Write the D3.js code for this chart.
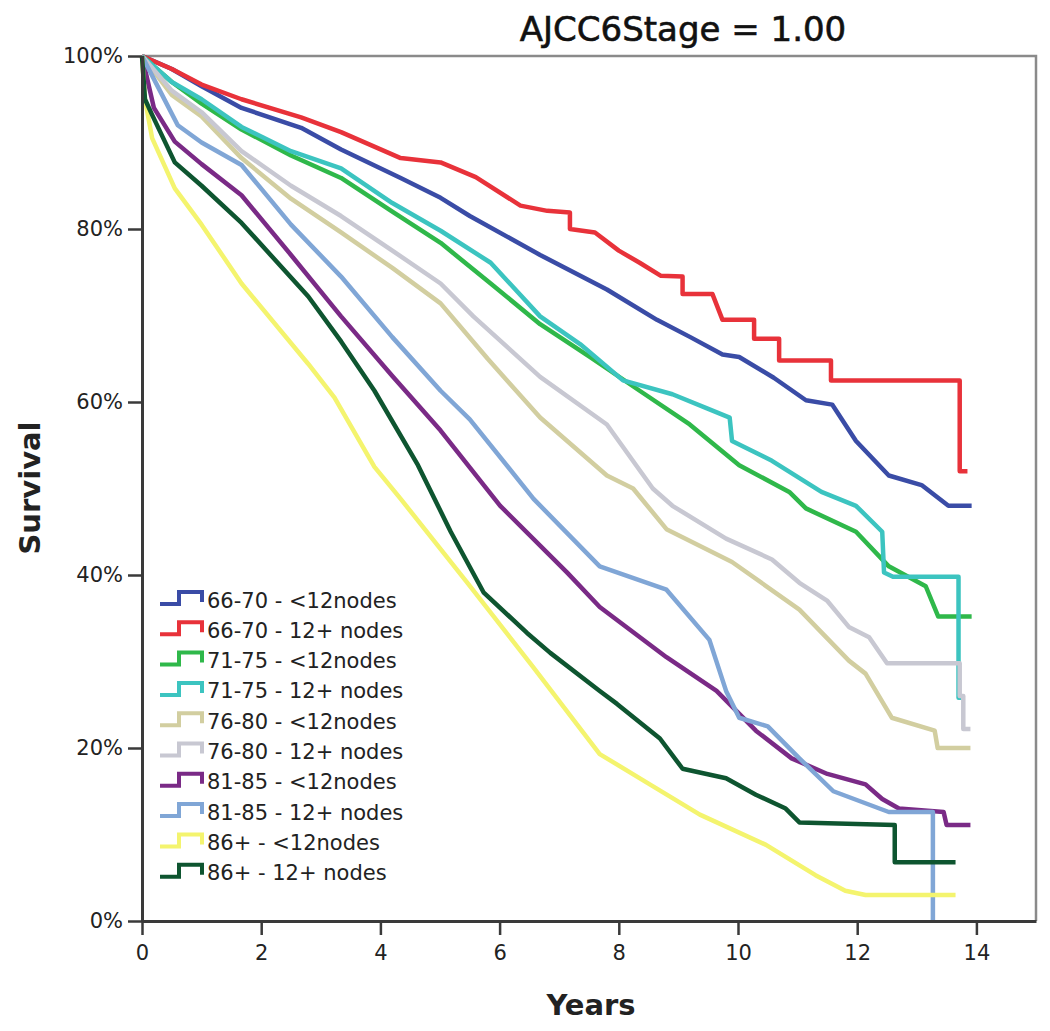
<!DOCTYPE html>
<html><head><meta charset="utf-8">
<script src="https://cdn.jsdelivr.net/npm/d3@7"></script>
<style>body{margin:0;background:#fff}</style></head>
<body>
<svg id="c" width="1050" height="1031"></svg>
<script>
// ---------- DATA ----------
const chartTitle = "AJCC6Stage = 1.00";
const xTitle = "Years";
const yTitle = "Survival";
const xTicks = [0, 2, 4, 6, 8, 10, 12, 14];
const yTicks = [0, 20, 40, 60, 80, 100];

const seriesNames = [
  "66-70 - <12nodes", "66-70 - 12+ nodes",
  "71-75 - <12nodes", "71-75 - 12+ nodes",
  "76-80 - <12nodes", "76-80 - 12+ nodes",
  "81-85 - <12nodes", "81-85 - 12+ nodes",
  "86+ - <12nodes", "86+ - 12+ nodes"
];

// [years, survival %]
const s6670_lt12 = [[0,100],[0.5,98.5],[1,96.5],[1.67,94],[2.67,91.7],[3.34,89.2],[4.34,85.9],[5.01,83.6],[5.5,81.5],[6.68,77],[7.8,73],[8.64,69.5],[9.2,67.5],[9.74,65.5],[10.02,65.2],[10.6,62.8],[11.14,60.2],[11.58,59.7],[11.98,55.5],[12.53,51.5],[13.08,50.4],[13.53,48],[13.92,48]];
const s6670_12p = [[0,100],[0.5,98.5],[1,96.7],[1.67,95],[2.67,92.9],[3.34,91.2],[4.34,88.2],[5.01,87.7],[5.6,86],[6.35,82.7],[6.8,82.1],[7.18,81.9],[7.18,80],[7.6,79.6],[8.0,77.5],[8.35,76.1],[8.7,74.6],[9.07,74.5],[9.07,72.5],[9.57,72.5],[9.74,69.5],[10.27,69.5],[10.27,67.3],[10.69,67.3],[10.69,64.8],[11.56,64.8],[11.56,62.5],[13.72,62.5],[13.72,52],[13.85,52]];
const s7175_lt12 = [[0,100],[0.5,97],[1,94.5],[1.67,91.5],[2.5,88.5],[3.34,85.9],[4.2,82],[5.01,78.4],[5.85,73.7],[6.68,69],[7.52,65.2],[8.35,61.3],[9.19,57.4],[10.02,52.7],[10.86,49.6],[11.14,47.7],[11.98,45],[12.53,41],[13.15,38.7],[13.36,35.2],[13.92,35.2]];
const s7175_12p = [[0,100],[0.5,97],[1,95],[1.67,91.8],[2.5,89],[3.34,87],[4.2,83],[5.01,79.8],[5.85,76.1],[6.68,69.9],[7.35,66.7],[8.07,62.5],[8.9,60.9],[9.47,59.3],[9.86,58.2],[9.9,55.5],[10.57,53.2],[11.4,49.6],[11.98,48],[12.42,45],[12.45,40.3],[12.6,39.8],[13.7,39.8],[13.7,25.8],[13.78,25.8]];
const s7680_lt12 = [[0,100],[0.5,95.5],[1,93],[1.67,88.2],[2.5,83.5],[3.34,79.6],[4.2,75.5],[5.01,71.4],[5.8,65],[6.68,58.2],[7.8,51.5],[8.24,50],[8.8,45.3],[9.9,41.5],[11.03,36],[11.86,30.1],[12.14,28.6],[12.58,23.5],[13.3,22],[13.35,20],[13.9,20]];
const s7680_12p = [[0,100],[0.5,96],[1,93.5],[1.67,89],[2.5,85],[3.34,81.5],[4.2,77.5],[5.01,73.7],[5.56,69.9],[6.68,62.9],[7.8,57.4],[8.57,50],[8.9,48],[9.8,44.2],[10.57,41.8],[11.03,39.1],[11.5,37],[11.86,34],[12.2,32.8],[12.5,29.8],[13.72,29.8],[13.72,26],[13.78,26],[13.78,22.2],[13.9,22.2]];
const s8185_lt12 = [[0,100],[0.2,94],[0.55,90.1],[1,87.5],[1.67,83.9],[2.5,77],[3.34,69.9],[4.2,63],[5.01,56.7],[6.01,48],[7.13,40.3],[7.68,36.3],[8.8,30.5],[9.64,26.6],[10.3,22],[10.9,18.8],[11.5,17],[12.14,15.8],[12.42,14.1],[12.7,13],[13.45,12.6],[13.5,11.1],[13.9,11.1]];
const s8185_12p = [[0,100],[0.3,96],[0.6,92],[1,90],[1.67,87.4],[2.5,80.5],[3.34,74.5],[4.2,67.5],[5.01,61.3],[5.5,58],[6.57,48.8],[7.68,41],[8.8,38.3],[9.52,32.5],[9.8,26.6],[10.02,23.5],[10.5,22.5],[11.03,18.8],[11.6,15],[12.53,12.6],[13.27,12.6],[13.27,0]];
const s86_lt12 = [[0,100],[0.05,95],[0.17,90.5],[0.55,84.7],[1,80.5],[1.67,73.7],[2.79,64.4],[3.23,60.5],[3.9,52.5],[4.34,48.8],[5.46,39.1],[6.57,29.3],[7.68,19.3],[8.52,15.8],[9.36,12.3],[10.47,8.8],[11.3,5.3],[11.8,3.5],[12.14,3],[13.65,3]];
const s86_12p = [[0,100],[0.05,95],[0.17,93.2],[0.55,87.7],[1,85],[1.67,80.7],[2.79,72.2],[3.34,67],[3.9,61.3],[4.63,52.7],[5.18,45],[5.73,38],[6.46,33.3],[6.85,31],[7.68,26.6],[7.97,25.1],[8.69,21.1],[9.07,17.6],[9.8,16.5],[10.3,14.6],[10.8,13],[11.03,11.4],[12.63,11.1],[12.63,6.8],[13.65,6.8]];

const seriesData = [s6670_lt12, s6670_12p, s7175_lt12, s7175_12p, s7680_lt12, s7680_12p, s8185_lt12, s8185_12p, s86_lt12, s86_12p];

// ---------- STYLE ----------
const colors = ["#3a4ca6", "#e8323a", "#2fb84a", "#3cc4c0", "#d2cea0", "#c8c8d2", "#7a2a86", "#80a6d6", "#f4f46e", "#0e5530"];

const svg = d3.select("#c");
const x = d3.scaleLinear().domain([0, 15]).range([142, 1036]);
const y = d3.scaleLinear().domain([0, 100]).range([921, 56]);

// frame top/right
svg.append("path")
  .attr("d", `M${x(0)},${y(100)}H${x(15)}V${y(0)}`)
  .attr("fill", "none").attr("stroke", "#8a8a8a").attr("stroke-width", 2.5);

// curves
const line = d3.line().x(d => x(d[0])).y(d => y(d[1])).curve(d3.curveLinear);
svg.append("g").selectAll("path").data(seriesData).join("path")
  .attr("d", line)
  .attr("fill", "none")
  .attr("stroke", (d, i) => colors[i])
  .attr("stroke-width", 4.5)
  .attr("stroke-linejoin", "round");

// axes
const font = "'DejaVu Sans', sans-serif";
const gx = svg.append("g").attr("transform", `translate(0,${y(0)})`)
  .call(d3.axisBottom(x).tickValues(xTicks).tickSize(14).tickSizeOuter(0).tickPadding(10));
const gy = svg.append("g").attr("transform", `translate(${x(0)},0)`)
  .call(d3.axisLeft(y).tickValues(yTicks).tickFormat(d => d + "%").tickSize(14).tickSizeOuter(0).tickPadding(5));
[gx, gy].forEach(g => {
  g.select(".domain").attr("stroke", "#3a3a3a").attr("stroke-width", 3);
  g.selectAll(".tick line").attr("stroke", "#3a3a3a").attr("stroke-width", 2.5);
  g.selectAll(".tick text").attr("font-family", font).attr("font-size", 21).attr("fill", "#222");
});

// titles
svg.append("text").attr("x", 683).attr("y", 41).attr("text-anchor", "middle")
  .attr("font-family", font).attr("font-size", 34).attr("fill", "#111")
  .attr("stroke", "#111").attr("stroke-width", 0.6).text(chartTitle);
svg.append("text").attr("x", 591).attr("y", 1015).attr("text-anchor", "middle")
  .attr("font-family", font).attr("font-weight", "bold").attr("font-size", 29).attr("fill", "#222").text(xTitle);
svg.append("text").attr("transform", "translate(40,488) rotate(-90)").attr("text-anchor", "middle")
  .attr("font-family", font).attr("font-weight", "bold").attr("font-size", 29).attr("fill", "#222").text(yTitle);

// legend
const lg = svg.append("g");
seriesNames.forEach((name, i) => {
  const cy = 600 + i * 30.3;
  lg.append("path")
    .attr("d", `M160,${cy + 4}H179V${cy - 8}H202V${cy + 2}`)
    .attr("fill", "none").attr("stroke", colors[i]).attr("stroke-width", 4);
  lg.append("text").attr("x", 207).attr("y", cy).attr("dy", "0.36em")
    .attr("font-family", font).attr("font-size", 21).attr("fill", "#222").text(name);
});
</script>
</body></html>
